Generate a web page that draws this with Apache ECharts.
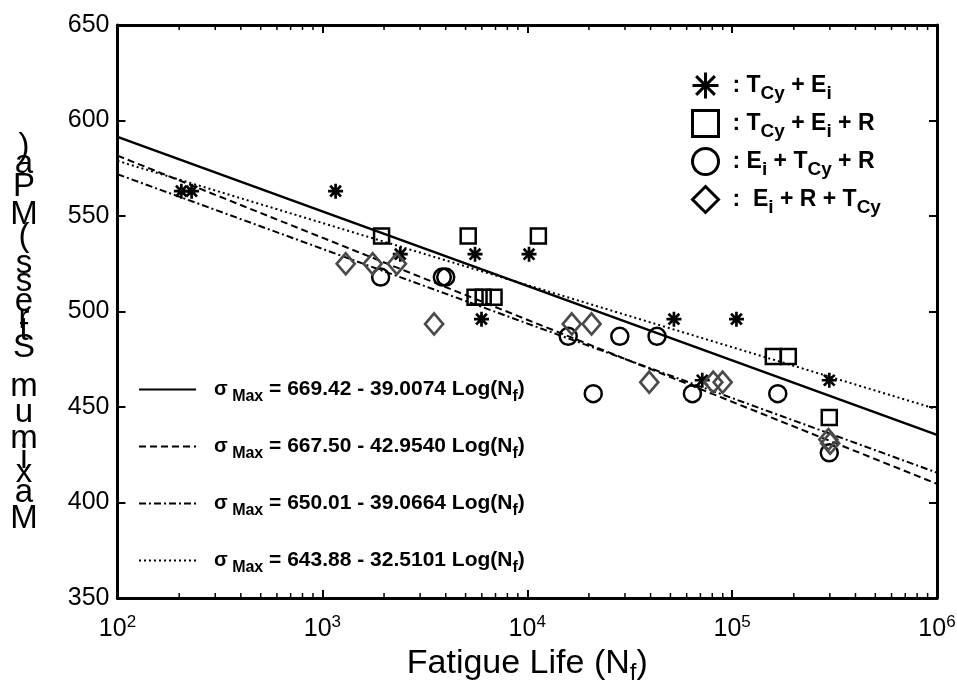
<!DOCTYPE html>
<html><head><meta charset="utf-8">
<script src="https://cdn.jsdelivr.net/npm/echarts@6/dist/echarts.min.js"></script>
<style>html,body{margin:0;padding:0;background:#fff}#c{width:957px;height:686px}</style>
</head><body><div id="c"></div>
<script>
const FONT = '"Liberation Sans", Arial, sans-serif';

// ---- data ----
const starN = [205, 230, 1160, 2400, 5560, 10200, 5980, 52000, 105000, 71500, 298000];
const starS = [563, 563, 563, 530, 530, 530, 496, 496, 496, 464, 464];
const squareN = [1945, 5150, 11330, 5560, 6095, 6885, 158900, 188000, 298000];
const squareS = [539.5, 539.5, 539.5, 507.5, 507.5, 507.5, 476.5, 476.5, 444.5];
const circleN = [1925, 3850, 4000, 15850, 28300, 43000, 21000, 64000, 167000, 298000];
const circleS = [518, 518, 518, 487, 487, 487, 457, 457, 457, 426];
const diamondN = [1300, 1760, 2310, 3510, 16500, 20600, 39400, 80900, 89900, 295000, 301000];
const diamondS = [525, 525, 525, 493.5, 493.5, 493.5, 463, 463, 463, 433, 431];

// fitted lines: sigma = A - B log10(N)
const fitA = [669.42, 667.50, 650.01, 643.88];
const fitB = [39.0074, 42.9540, 39.0664, 32.5101];
const fitAText = ['669.42', '667.50', '650.01', '643.88'];
const fitBText = ['39.0074', '42.9540', '39.0664', '32.5101'];
const fitRange = [100, 1000000];

const xMin = 100, xMax = 1000000;
const yMin = 350, yMax = 650, yStep = 50;
const minorMantissa = [2, 3, 4, 5, 6, 7, 8, 9];
const yLabelText = 'Maximum Stress (MPa)';

const scatterNames = ['TCy + Ei', 'TCy + Ei + R', 'Ei + TCy + R', 'Ei + R + TCy'];
const scatterRich = [
  '{g| }{t|: T}{s|Cy}{t| + E}{s|i}',
  '{g| }{t|: T}{s|Cy}{t| + E}{s|i}{t| + R}',
  '{g| }{t|: E}{s|i}{t| + T}{s|Cy}{t| + R}',
  '{g| }{t|:  E}{s|i}{t| + R + T}{s|Cy}'
];
const lineNames = fitA.map((a, i) => 'fit' + i);
const lineTypes = ['solid', [7, 4], [7, 3, 2, 3], [2, 3]];
const lineWidths = [2.5, 2, 2, 2];

const zip = (a, b) => a.map((v, i) => [v, b[i]]);
const starPath = 'path://M0,-10L0,10M-10,0L10,0M-7.2,-7.2L7.2,7.2M-7.2,7.2L7.2,-7.2';

// minor tick positions (axis decoration)
const minorTicks = [];
for (let e = Math.log10(xMin); e < Math.log10(xMax); e++) {
  minorMantissa.forEach(m => minorTicks.push([m * Math.pow(10, e), yMin]));
}

// glitched stacked y label
const mctx = document.createElement('canvas').getContext('2d');
mctx.font = '100px "Liberation Sans"';
const yLabelEls = [];
let cum = 0, c0 = null;
for (const ch of yLabelText) {
  const w = mctx.measureText(ch).width / 100;
  const c = cum + w / 2;
  cum += w;
  if (c0 === null) c0 = c;
  if (ch === ' ') continue;
  yLabelEls.push({
    type: 'text', x: 24, y: 519 - (c - c0) * 37.7,
    style: { text: ch, fontSize: 33, fontFamily: FONT, fill: '#000',
      align: 'center', verticalAlign: 'middle', textAlign: 'center', textVerticalAlign: 'middle' }
  });
}

const chart = echarts.init(document.getElementById('c'));
const axisLineStyle = { color: '#000', width: 3 };

const series = [];
fitA.forEach((a, i) => {
  series.push({
    name: lineNames[i], type: 'line', symbol: 'none', silent: true,
    data: fitRange.map(n => [n, a - fitB[i] * Math.log10(n)]),
    lineStyle: { color: '#000', width: lineWidths[i], type: lineTypes[i] },
    itemStyle: { color: '#000' }, z: 2
  });
});
const sc = (name, data, symbol, size, color, bw) => ({
  name, type: 'scatter', data, symbol, symbolSize: size, z: 3,
  itemStyle: { color: 'rgba(0,0,0,0)', borderColor: color, borderWidth: bw, opacity: 1 }
});
series.push(sc(scatterNames[0], zip(starN, starS), starPath, 15, '#000', 2.7));
series.push(sc(scatterNames[1], zip(squareN, squareS), 'rect', 15, '#000', 2.5));
series.push(sc(scatterNames[2], zip(circleN, circleS), 'circle', 17, '#000', 2.5));
series.push(sc(scatterNames[3], zip(diamondN, diamondS), 'diamond', [18, 21], '#4a4a4a', 2.7));
series.push({
  type: 'custom', silent: true, data: minorTicks, clip: false, z: 5,
  renderItem(params, api) {
    const v = api.value(0);
    const b = api.coord([v, yMin]);
    const t = api.coord([v, yMax]);
    return { type: 'group', children: [
      { type: 'line', shape: { x1: b[0], y1: b[1], x2: b[0], y2: b[1] - 5 }, style: { stroke: '#000', lineWidth: 1.5 } },
      { type: 'line', shape: { x1: t[0], y1: t[1], x2: t[0], y2: t[1] + 5 }, style: { stroke: '#000', lineWidth: 1.5 } }
    ] };
  }
});

const xLabelFmt = v => '{b|10}{sup|' + Math.round(Math.log10(v)) + '}';

chart.setOption({
  animation: false,
  backgroundColor: '#fff',
  grid: { left: 117.5, right: 20, top: 25, bottom: 88, containLabel: false, outerBoundsMode: 'none' },
  xAxis: [{
    type: 'log', logBase: 10, min: xMin, max: xMax, interval: 1, position: 'bottom',
    axisLine: { lineStyle: axisLineStyle },
    axisTick: { inside: true, length: 8, lineStyle: { width: 2, color: '#000' } },
    splitLine: { show: false },
    axisLabel: { formatter: xLabelFmt, margin: 16, rich: {
      b: { fontSize: 25, fontFamily: FONT, color: '#000' },
      sup: { fontSize: 17, fontFamily: FONT, color: '#000', padding: [0, 0, 14, 0] } } },
    name: '{n|Fatigue Life (N}{s|f}{n|)}', nameLocation: 'middle', nameGap: 44,
    nameTextStyle: { rich: {
      n: { fontSize: 34, fontFamily: FONT, color: '#000' },
      s: { fontSize: 24, fontFamily: FONT, color: '#000', padding: [18, 0, 0, 0] } } }
  }, {
    type: 'log', logBase: 10, min: xMin, max: xMax, interval: 1, position: 'top',
    axisLine: { lineStyle: axisLineStyle },
    axisTick: { inside: true, length: 8, lineStyle: { width: 2, color: '#000' } },
    axisLabel: { show: false }, splitLine: { show: false }
  }],
  yAxis: [{
    type: 'value', min: yMin, max: yMax, interval: yStep, position: 'left',
    axisLine: { show: true, lineStyle: axisLineStyle },
    axisTick: { show: true, inside: true, length: 8, lineStyle: { width: 2, color: '#000' } },
    splitLine: { show: false },
    axisLabel: { fontSize: 25, fontFamily: FONT, color: '#000', margin: 8 }
  }, {
    type: 'value', min: yMin, max: yMax, interval: yStep, position: 'right',
    axisLine: { show: true, lineStyle: axisLineStyle },
    axisTick: { show: true, inside: true, length: 8, lineStyle: { width: 2, color: '#000' } },
    splitLine: { show: false }, axisLabel: { show: false }
  }],
  legend: [{
    data: scatterNames, orient: 'vertical', left: 686, top: 66,
    itemWidth: 26, itemHeight: 26, itemGap: 6, selectedMode: false,
    itemStyle: { color: 'rgba(0,0,0,0)', borderColor: '#000', borderWidth: 3, opacity: 1 },
    formatter: name => scatterRich[scatterNames.indexOf(name)],
    textStyle: { rich: {
      g: { width: 9, fontSize: 10 },
      t: { fontSize: 23, fontWeight: 'bold', fontFamily: FONT, color: '#000' },
      s: { fontSize: 19, fontWeight: 'bold', fontFamily: FONT, color: '#000', padding: [16, 0, 0, 0] } } }
  }, {
    data: lineNames, orient: 'vertical', left: 133, top: 374,
    itemWidth: 57, itemHeight: 14, itemGap: 31.5, selectedMode: false,
    itemStyle: { opacity: 0 },
    formatter: name => { const i = lineNames.indexOf(name);
      return '{g| }{sg|σ}{sub| Max}{t| = ' + fitAText[i] + ' - ' + fitBText[i] + ' Log(N}{sub|f}{t|)}'; },
    textStyle: { rich: {
      g: { width: 13, fontSize: 10 },
      sg: { fontSize: 20, fontWeight: 'bold', fontFamily: FONT, color: '#000' },
      t: { fontSize: 21, fontWeight: 'bold', fontFamily: FONT, color: '#000' },
      sub: { fontSize: 16, fontWeight: 'bold', fontFamily: FONT, color: '#000', padding: [14, 0, 0, 0] } } }
  }],
  graphic: yLabelEls,
  series
});
</script></body></html>
